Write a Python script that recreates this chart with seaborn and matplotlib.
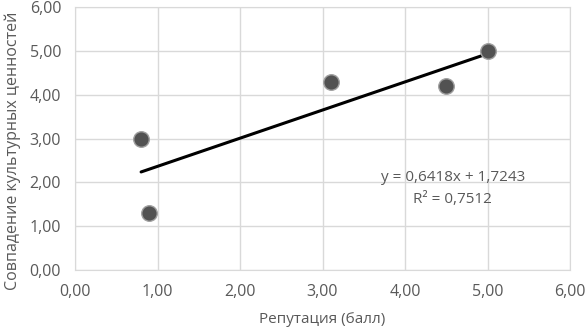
import numpy as np
import pandas as pd
import matplotlib.pyplot as plt
import seaborn as sns

# Data
reputation = [0.8, 0.9, 3.1, 4.5, 5.0]
values_match = [3.0, 1.3, 4.3, 4.2, 5.0]
x_ticks = [0, 1, 2, 3, 4, 5, 6]
y_ticks = [0, 1, 2, 3, 4, 5, 6]

df = pd.DataFrame({'x': reputation, 'y': values_match})

sns.set_style('white')
plt.rcParams['font.family'] = ['Open Sans', 'DejaVu Sans']

fig = plt.figure(figsize=(5.87, 3.33), dpi=100)
ax = fig.add_axes([0.128, 0.189, 0.843, 0.79])

# trendline through the data range
sns.regplot(data=df, x='x', y='y', ci=None, truncate=True, scatter=False,
            line_kws={'color': 'black', 'lw': 2.2}, ax=ax)

# dark grey "ball" markers
sns.scatterplot(data=df, x='x', y='y', s=125, color='#525252',
                edgecolor='#a0a0a0', linewidth=1.0, zorder=3, ax=ax)

slope, intercept = np.polyfit(reputation, values_match, 1)
r2 = np.corrcoef(reputation, values_match)[0, 1] ** 2
eq = f'y = {slope:.4f}x + {intercept:.4f}'.replace('.', ',')
r2_txt = f'R² = {r2:.4f}'.replace('.', ',')
ax.text(4.58, 2.10, eq, ha='center', va='center', fontsize=11, color='#595959')
ax.text(4.58, 1.60, r2_txt, ha='center', va='center', fontsize=11, color='#595959')

ax.set_xlim(0, 6)
ax.set_ylim(0, 6)
ax.set_xticks(x_ticks)
ax.set_yticks(y_ticks)
ax.set_xticklabels([f'{t:.2f}'.replace('.', ',') for t in x_ticks])
ax.set_yticklabels([f'{t:.2f}'.replace('.', ',') for t in y_ticks])
ax.tick_params(axis='both', labelsize=11.5, colors='#595959', length=0, pad=10)
ax.grid(True, color='#d9d9d9', lw=1)
for s in ax.spines.values():
    s.set_color('#d9d9d9')
ax.set_xlabel('Репутация (балл)', fontsize=11, color='#595959', labelpad=9)
ax.set_ylabel('Совпадение культурных ценностей', fontsize=11.5, color='#595959')
ax.yaxis.set_label_coords(-0.11, 0.455)

plt.savefig('out.png', dpi=100)
